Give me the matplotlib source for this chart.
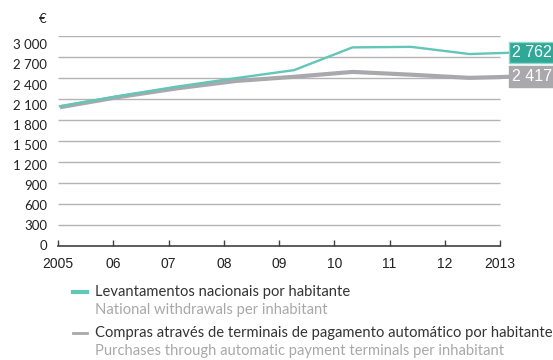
import numpy as np
import matplotlib.pyplot as plt
from matplotlib.lines import Line2D

# dados: levantamentos vs compras por habitante (euros)
anos = ['2005', '06', '07', '08', '09', '10', '11', '12', '2013']
levantamentos = [1990, 2135, 2270, 2390, 2505, 2830, 2838, 2735, 2762]
compras = [1975, 2120, 2245, 2350, 2410, 2480, 2440, 2395, 2417]
grelha = [0, 300, 600, 900, 1200, 1500, 1800, 2100, 2400, 2700, 3000]
rotulos_y = ['0', '300', '600', '900', '1 200', '1 500', '1 800', '2 100', '2 400', '2 700', '3 000']
legenda_pt = ['Levantamentos nacionais por habitante',
              'Compras através de terminais de pagamento automático por habitante']
legenda_en = ['National withdrawals per inhabitant',
              'Purchases through automatic payment terminals per inhabitant']

teal = '#62c6b8'
teal_escuro = '#2fa898'
cinza = '#a9a9ad'

W, H = 553, 360
fig = plt.figure(figsize=(W / 100, H / 100), dpi=100)
ax = fig.add_axes([58 / W, 1 - 245.5 / H, 470 / W, 210 / H])

x = np.arange(len(anos))
x0, x1 = -0.034, 7.52
ax.set_xlim(x0, 8)
ax.set_ylim(0, 3000)

# linhas de grelha
ax.hlines(grelha[1:], x0, x1, color='#b4b4b4', lw=1.0, zorder=1)

ax.plot(x, compras, color=cinza, lw=3.0, solid_joinstyle='round', solid_capstyle='butt', zorder=3)
ax.plot(x, levantamentos, color=teal, lw=1.7, solid_joinstyle='miter', zorder=4)

# caixas com o ultimo valor
def caixa(v, fc, ec):
    ax.text(8.07, v, f'{v:,}'.replace(',', ' '), ha='center', va='center', color='white',
            fontsize=11.5, family='Liberation Sans', zorder=6, clip_on=False,
            bbox=dict(boxstyle='square,pad=0.18', fc=fc, ec=ec, lw=1))

caixa(levantamentos[-1], teal_escuro, '#8fd8cc')
caixa(compras[-1], cinza, cinza)

for s in ['top', 'right', 'left']:
    ax.spines[s].set_visible(False)
ax.spines['bottom'].set_bounds(x0, x1)
ax.spines['bottom'].set_color('#404040')
ax.spines['bottom'].set_linewidth(1.2)

xt = x * 0.944 - 0.03
ax.set_xticks(xt)
ax.set_xticklabels(anos, family='Liberation Sans', fontsize=10, color='#222222')
ax.tick_params(axis='x', direction='in', length=4, width=1, color='#404040', pad=8)

ax.set_yticks(np.array(grelha) * 0.958)
ax.set_yticklabels(rotulos_y, family='Lato', fontsize=9.5, color='#222222')
ax.tick_params(axis='y', length=0, pad=8)

fig.text(46 / W, 1 - 19 / H, '€', ha='right', va='center', fontsize=9.5, family='Lato', color='#222222')

# legenda
for i, (c, lw) in enumerate([(teal, 3.0), (cinza, 2.0)]):
    yy = 1 - (291.7 + 41 * i) / H
    fig.add_artist(Line2D([73 / W, 87 / W], [yy, yy], color=c, lw=lw))
    fig.text(95 / W, yy, legenda_pt[i], ha='left', va='center', fontsize=10.6,
             family='Lato', color='#333333')
    fig.text(95 / W, yy - 18.5 / H, legenda_en[i], ha='left', va='center', fontsize=10.6,
             family='Lato', color='#a8a8a8')

fig.savefig('out.png', dpi=100)
